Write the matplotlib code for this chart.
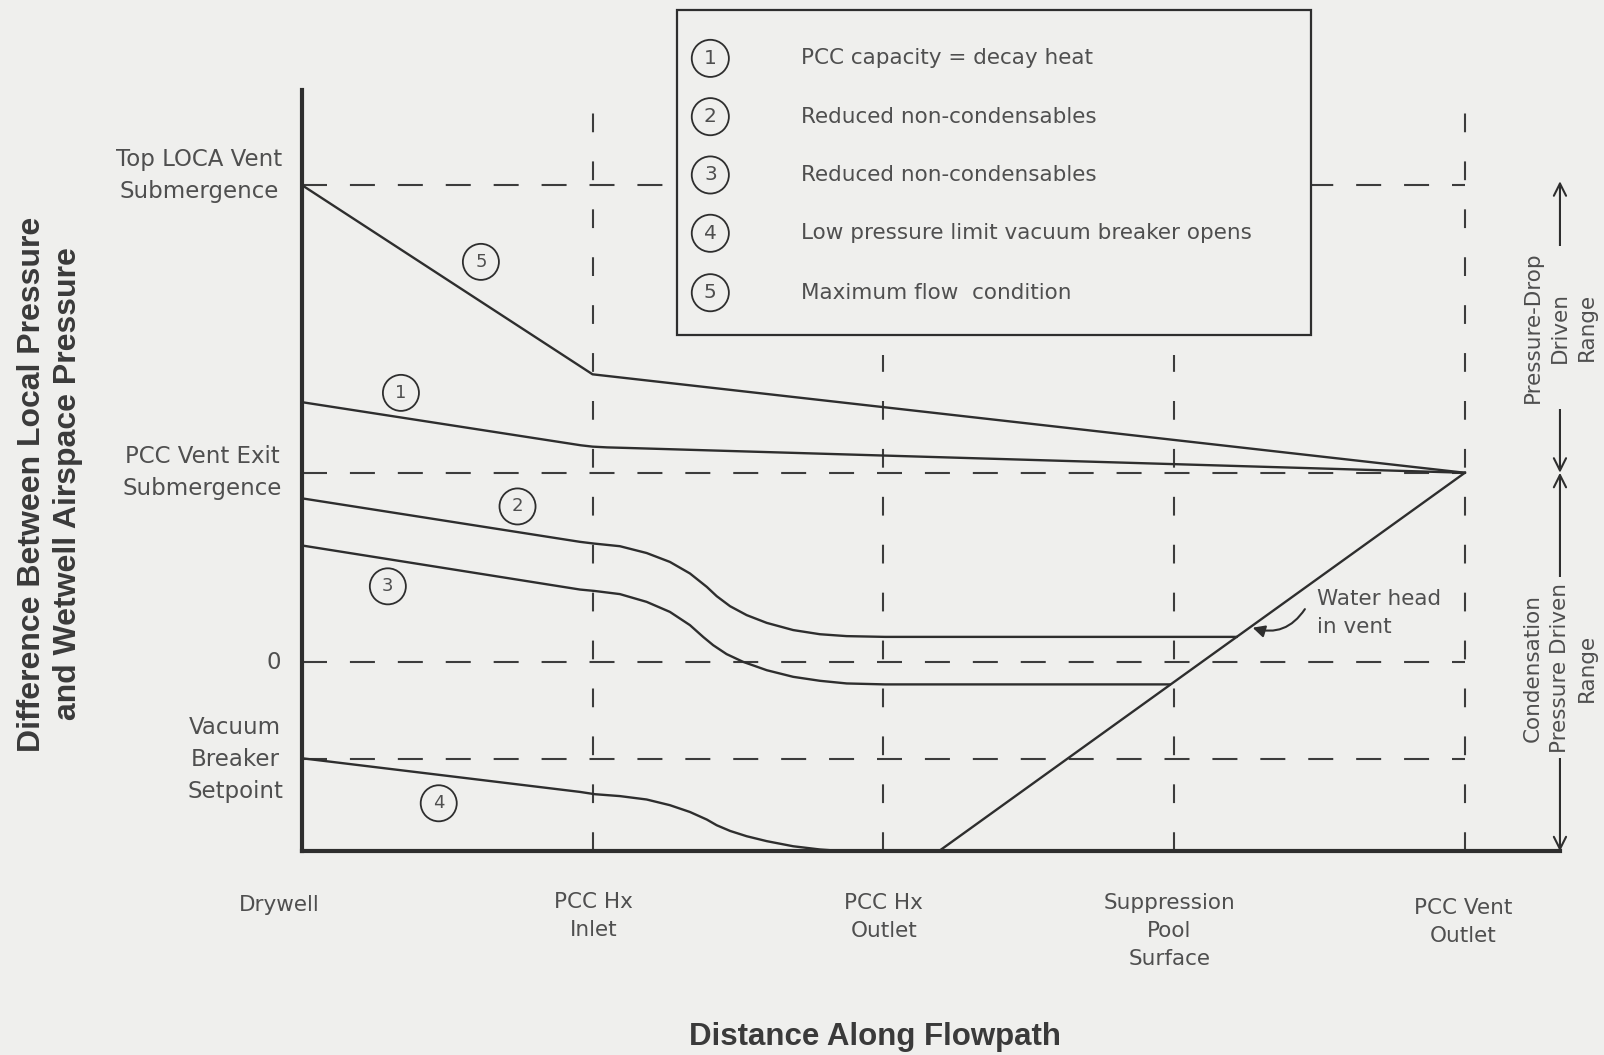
import matplotlib
matplotlib.use('Agg')
import matplotlib.pyplot as plt
from matplotlib.patches import Rectangle

# ---------------- data ----------------
stations = [0, 1, 2, 3, 4]
station_labels = ["Drywell", "PCC Hx\nInlet", "PCC Hx\nOutlet",
                  "Suppression\nPool\nSurface", "PCC Vent\nOutlet"]
level_values = [2.52, 1.0, 0.0, -0.51]
level_labels = ["Top LOCA Vent\nSubmergence", "PCC Vent Exit\nSubmergence",
                "0", "Vacuum\nBreaker\nSetpoint"]
y_floor = -1.0
y_top = 3.02

c5_x = [0, 1, 4]
c5_y = [2.52, 1.52, 1.0]
c1_x = [0, 0.96, 1.0, 1.05, 1.12, 4]
c1_y = [1.373, 1.145, 1.138, 1.134, 1.131, 1.0]
c2_x = [0, 0.957, 1.005, 1.094, 1.186, 1.266, 1.335, 1.393, 1.427, 1.473, 1.530,
        1.599, 1.690, 1.782, 1.874, 2.006, 3.215]
c2_y = [0.865, 0.635, 0.626, 0.612, 0.576, 0.529, 0.468, 0.397, 0.348, 0.295, 0.248,
        0.207, 0.169, 0.147, 0.137, 0.133, 0.133]
c3_x = [0, 0.957, 1.005, 1.094, 1.186, 1.266, 1.335, 1.381, 1.415, 1.461, 1.518,
        1.599, 1.690, 1.782, 1.874, 2.006, 2.985]
c3_y = [0.616, 0.383, 0.376, 0.359, 0.318, 0.265, 0.195, 0.132, 0.089, 0.042, 0.001,
        -0.043, -0.078, -0.099, -0.113, -0.118, -0.118]
c4_x = [0, 0.957, 1.008, 1.094, 1.186, 1.266, 1.335, 1.393, 1.427, 1.473, 1.530,
        1.599, 1.690, 1.782, 1.874]
c4_y = [-0.508, -0.686, -0.698, -0.708, -0.726, -0.756, -0.792, -0.832, -0.862, -0.892,
        -0.920, -0.946, -0.973, -0.990, -1.0]
wh_x = [2.19, 4]
wh_y = [-1.0, 1.0]

legend_ids = ["1", "2", "3", "4", "5"]
legend_texts = ["PCC capacity = decay heat", "Reduced non-condensables",
                "Reduced non-condensables", "Low pressure limit vacuum breaker opens",
                "Maximum flow  condition"]

# ---------------- style ----------------
BG = '#efefed'
INK = '#2e2e2e'
DASH = '#3c3c3c'
TXT = '#4f4f4f'
FS = 15.5

plt.rcParams['font.family'] = ['DejaVu Sans']

fig = plt.figure(figsize=(16.04, 10.55), dpi=100, facecolor=BG)
ax = fig.add_axes([295 / 1568, 1 - 832 / 1031, 4.327 * 284.25 / 1568, 4.02 * 185 / 1031])
ax.set_facecolor(BG)
ax.set_xlim(0, 4.327)
ax.set_ylim(y_floor, y_top)
for s in ['top', 'right']:
    ax.spines[s].set_visible(False)
ax.spines['left'].set(linewidth=3, color=INK)
ax.spines['bottom'].set(linewidth=3, color=INK)
ax.set_xticks([])
ax.set_yticks([])

# dashed reference lines
for lv in level_values:
    ax.plot([0, stations[-1]], [lv, lv], color=DASH, lw=1.5, dashes=(12, 11), zorder=1)
vtops = [y_top, 1.62, 1.62, y_top]
for sx, top in zip(stations[1:], vtops):
    ax.plot([sx, sx], [y_floor, top], color=DASH, lw=1.5, dashes=(9, 14), zorder=1)

# curves
for xs, ys in [(c5_x, c5_y), (c1_x, c1_y), (c2_x, c2_y), (c3_x, c3_y), (c4_x, c4_y), (wh_x, wh_y)]:
    ax.plot(xs, ys, color=INK, lw=1.7, zorder=2, solid_joinstyle='round')

# circled curve labels
circ = dict(boxstyle='circle,pad=0.5', fc='none', ec=INK, lw=1.3)
for lbl, (x, y) in zip(["5", "1", "2", "3", "4"],
                       [(0.616, 2.114), (0.341, 1.422), (0.742, 0.822), (0.296, 0.400), (0.471, -0.746)]):
    ax.text(x, y, lbl, ha='center', va='center', fontsize=13, color=TXT, bbox=circ, zorder=4)

# left level labels
for lbl, (x, y) in zip(level_labels, [(-0.352, 2.568), (-0.341, 1.0), (-0.095, 0.0), (-0.229, -0.514)]):
    ax.text(x, y, lbl, ha='center', va='center', fontsize=16.5, color=TXT, linespacing=1.5)

# station labels
for lbl, x, y in zip(station_labels, [-0.077, 1.003, 2.002, 2.983, 3.993],
                     [-1.232, -1.212, -1.222, -1.222, -1.247]):
    ax.text(x, y, lbl, ha='center', va='top', fontsize=FS, color=TXT, linespacing=1.5)

# legend box
ax.add_patch(Rectangle((1.291, 1.727), 3.472 - 1.291, 3.444 - 1.727, fc=BG, ec=INK,
                       lw=1.6, clip_on=False, zorder=5))
for i, (lid, txt) in enumerate(zip(legend_ids, legend_texts)):
    y = [3.189, 2.881, 2.573, 2.265, 1.951][i]
    ax.text(1.405, y, lid, ha='center', va='center', fontsize=14.5, color=TXT, zorder=6,
            bbox=dict(boxstyle='circle,pad=0.45', fc='none', ec=INK, lw=1.3))
    ax.text(1.717, y, txt, ha='left', va='center', fontsize=15.5, color=TXT, zorder=6)

# water head annotation
ax.text(3.49, 0.259, "Water head\nin vent", ha='left', va='center', fontsize=FS,
        color=TXT, linespacing=1.5)
ax.annotate('', xy=(3.261, 0.186), xytext=(3.455, 0.292),
            arrowprops=dict(arrowstyle='-|>', color=INK, lw=1.5, mutation_scale=18,
                            connectionstyle='arc3,rad=-0.4'))

# right range arrows
xr = 4.327
aprops = dict(arrowstyle='<->', color=INK, lw=1.5, mutation_scale=22, shrinkA=0, shrinkB=0)
ax.annotate('', xy=(xr, 2.54), xytext=(xr, 1.0), arrowprops=aprops, annotation_clip=False, zorder=3)
ax.annotate('', xy=(xr, 1.0), xytext=(xr, -1.0), arrowprops=aprops, annotation_clip=False, zorder=3)
ax.text(xr, 1.768, "Pressure-Drop\nDriven\nRange", rotation=90, ha='center', va='center',
        fontsize=15.5, color=TXT, linespacing=1.45, zorder=4,
        bbox=dict(boxstyle='square,pad=0.25', fc=BG, ec='none'), clip_on=False)
ax.text(xr, -0.03, "Condensation\nPressure Driven\nRange", rotation=90, ha='center', va='center',
        fontsize=15.5, color=TXT, linespacing=1.45, zorder=4,
        bbox=dict(boxstyle='square,pad=0.25', fc=BG, ec='none'), clip_on=False)

# axis titles
fig.text(0.0313, 0.5412, "Difference Between Local Pressure\nand Wetwell Airspace Pressure",
         rotation=90, ha='center', va='center', fontsize=23, fontweight='bold',
         family=['Liberation Sans', 'DejaVu Sans'], color='#3a3a3a', linespacing=1.25)
fig.text(0.5453, 0.0175, "Distance Along Flowpath", ha='center', va='center', fontsize=22.5,
         fontweight='bold', family=['Liberation Sans', 'DejaVu Sans'], color='#3a3a3a')

fig.savefig('out.png', dpi=100, facecolor=BG)
